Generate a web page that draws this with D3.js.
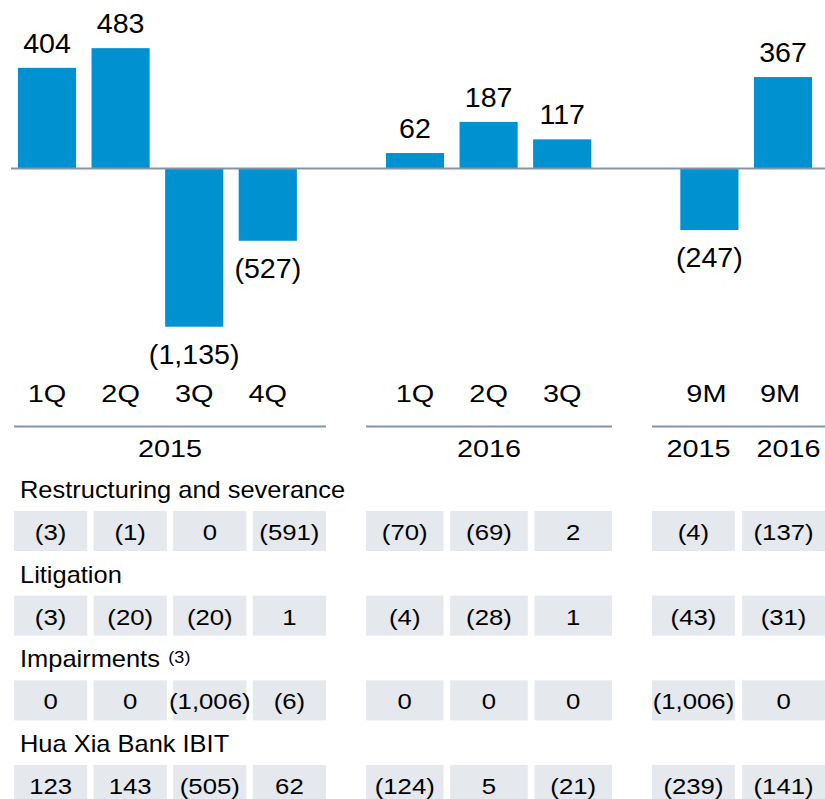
<!DOCTYPE html>
<html>
<head>
<meta charset="utf-8">
<script src="https://cdn.jsdelivr.net/npm/d3@7"></script>
<style>
  body { margin: 0; background: #fff; }
  text { font-family: 'Liberation Sans', Arial, sans-serif; fill: #000; }
</style>
</head>
<body>
<svg width="825" height="799"></svg>
<script>
// periods shown as columns
const categories = ['1Q', '2Q', '3Q', '4Q', '1Q', '2Q', '3Q', '9M', '9M']
const groups = ['2015', '2015', '2015', '2015', '2016', '2016', '2016', '9M', '9M']
const nineMonthYears = ['2015', '2016']

// bar labels
const values = [404, 483, -1135, -527, 62, 187, 117, -247, 367]
// bar lengths as drawn (3Q/4Q 2015 are shortened in the original)
const barValues = [404, 483, -635, -290, 62, 187, 117, -247, 367]

// table rows
const rowNames = ['Restructuring and severance', 'Litigation', 'Impairments', 'Hua Xia Bank IBIT']
const restructuring = [-3, -1, 0, -591, -70, -69, 2, -4, -137]
const litigation = [-3, -20, -20, 1, -4, -28, 1, -43, -31]
const impairments = [0, 0, -1006, -6, 0, 0, 0, -1006, 0]
const huaXia = [123, 143, -505, 62, -124, 5, -21, -239, -141]
const rows = [restructuring, litigation, impairments, huaXia]

const blue = '#0091d0'
const rule = '#8394a7'
const cellFill = '#e5e8ec'

let svg = d3.select('svg')
let fmt = d3.format(',')
let label = v => v < 0 ? '(' + fmt(-v) + ')' : fmt(v)

// slot keys, with an empty slot between groups
let slots = []
categories.forEach((c, i) => {
  if (i > 0 && groups[i] !== groups[i - 1]) slots.push('gap' + i)
  slots.push('c' + i)
})

let x = d3.scaleBand()
    .domain(slots)
    .range([10.2, 819.8])
    .paddingInner(0.21)
    .paddingOuter(0.105)
let cx = i => x('c' + i) + x.bandwidth() / 2

let y = d3.scaleLinear()
    .domain([-600, 600])
    .range([318, 19])

// stretched text helper
function put(sel, px, py, sx) {
  return sel.attr('transform', 'translate(' + px + ',' + py + ') scale(' + sx + ',1)')
}

// bars
svg.append('g')
  .selectAll('rect')
  .data(barValues)
  .enter().append('rect')
    .attr('x', (d, i) => x('c' + i))
    .attr('width', x.bandwidth())
    .attr('y', d => y(Math.max(0, d)))
    .attr('height', d => Math.abs(y(d) - y(0)))
    .attr('fill', blue)

// zero line
svg.append('line')
    .attr('x1', 11).attr('x2', 825)
    .attr('y1', y(0)).attr('y2', y(0))
    .attr('stroke', rule)
    .attr('stroke-width', 2)

// value labels
svg.append('g')
  .selectAll('text')
  .data(values)
  .enter().append('text')
    .attr('text-anchor', 'middle')
    .attr('font-size', 27)
    .text(d => label(d))
    .each(function(d, i) {
      let b = barValues[i]
      let py = b >= 0 ? y(b) - 15 : y(b) + 37
      put(d3.select(this), cx(i), py, 1.06)
    })

// category labels
svg.append('g')
  .selectAll('text')
  .data(categories)
  .enter().append('text')
    .attr('text-anchor', 'middle')
    .attr('font-size', 24.5)
    .text(d => d)
    .each(function(d, i) {
      let shift = groups[i] === '9M' ? -3 : 0
      put(d3.select(this), cx(i) + shift, 401.5, 1.18)
    })

// table column scales per group
let groupRange = { '2015': [14, 326], '2016': [366, 612], '9M': [652, 825] }
let groupNames = Array.from(new Set(groups))
let colScale = {}
groupNames.forEach(g => {
  let cols = d3.range(categories.length).filter(i => groups[i] === g)
  colScale[g] = d3.scaleBand().domain(cols).range(groupRange[g]).paddingInner(0.08)
})
let colX = i => colScale[groups[i]](i)
let colW = i => colScale[groups[i]].bandwidth()

// group rules and year labels
svg.append('g')
  .selectAll('line')
  .data(groupNames)
  .enter().append('line')
    .attr('x1', g => groupRange[g][0])
    .attr('x2', g => groupRange[g][1])
    .attr('y1', 426.5).attr('y2', 426.5)
    .attr('stroke', rule)
    .attr('stroke-width', 2)

let yearLabels = []
groupNames.forEach(g => {
  if (g === '9M') {
    colScale[g].domain().forEach((i, k) => yearLabels.push({ text: nineMonthYears[k], x: colX(i) + colW(i) / 2 + 5 }))
  } else {
    yearLabels.push({ text: g, x: (groupRange[g][0] + groupRange[g][1]) / 2 })
  }
})
svg.append('g')
  .selectAll('text')
  .data(yearLabels)
  .enter().append('text')
    .attr('text-anchor', 'middle')
    .attr('font-size', 24)
    .text(d => d.text)
    .each(function(d) { put(d3.select(this), d.x, 456.5, 1.2) })

// table rows
let rowY = d3.scaleLinear().domain([0, rows.length - 1]).range([511, 765])

rows.forEach((row, r) => {
  let top = rowY(r)
  let name = svg.append('text')
      .attr('font-size', 24)
      .text(rowNames[r])
  put(name, 20, top - 13, 1.06)
  if (rowNames[r] === 'Impairments') {
    name.append('tspan')
        .attr('font-size', 17)
        .attr('dx', 8)
        .attr('dy', -4)
        .text('(3)')
  }

  let g = svg.append('g')
  g.selectAll('rect')
    .data(row)
    .enter().append('rect')
      .attr('x', (d, i) => colX(i))
      .attr('width', (d, i) => colW(i))
      .attr('y', top)
      .attr('height', 40)
      .attr('fill', cellFill)
  g.selectAll('text')
    .data(row)
    .enter().append('text')
      .attr('text-anchor', 'middle')
      .attr('font-size', 23)
      .text(d => label(d))
      .each(function(d, i) { put(d3.select(this), colX(i) + colW(i) / 2, top + 29, 1.12) })
})
</script>
</body>
</html>
